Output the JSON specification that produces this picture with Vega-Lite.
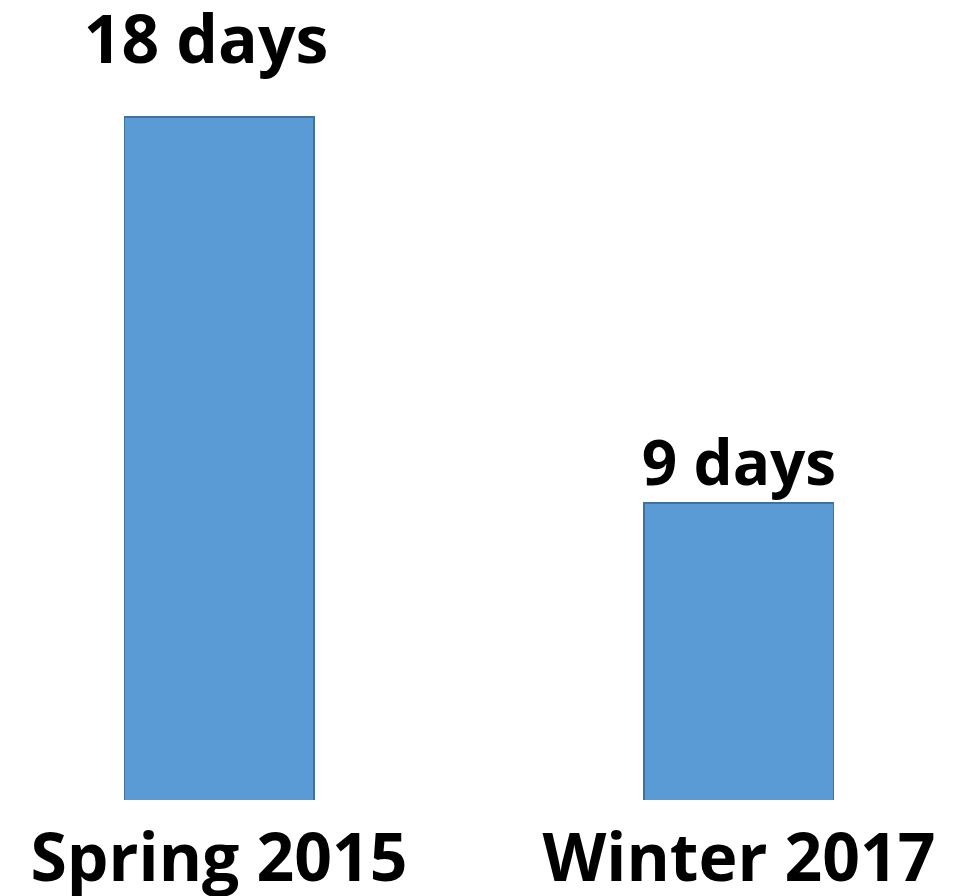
{
  "$schema": "https://vega.github.io/schema/vega-lite/v6.json",
  "width": 710,
  "height": 800,
  "autosize": {"type": "none"},
  "padding": {"left": 124, "top": 0, "right": 133, "bottom": 96},
  "background": "white",
  "config": {"view": {"stroke": null}},
  "data": {"values": [
    {"period": "Spring 2015", "days": 18, "label": "18 days"},
    {"period": "Winter 2017", "days": 9, "label": "9 days"}
  ]},
  "encoding": {
    "x": {
      "field": "period", "type": "nominal", "sort": null,
      "scale": {"paddingInner": 0.6346, "paddingOuter": 0},
      "axis": {
        "title": null, "domain": false, "ticks": false, "tickSize": 0,
        "labelAngle": 0, "labelFont": "Open Sans", "labelFontWeight": "bold",
        "labelFontSize": 66, "labelColor": "black", "labelBaseline": "alphabetic",
        "labelPadding": 80, "labelLimit": 0, "labelOverlap": false, "labelBound": false
      }
    },
    "y": {
      "field": "days", "type": "quantitative",
      "scale": {"domain": [2.075, 20.728], "zero": false, "nice": false},
      "axis": null
    }
  },
  "layer": [
    {"mark": {"type": "bar", "color": "#5B9BD5", "stroke": "#41719C", "strokeWidth": 2, "clip": true}},
    {"transform": [{"filter": "datum.days == 18"}],
     "mark": {"type": "text", "font": "Open Sans", "fontWeight": "bold", "fontSize": 66, "color": "black", "baseline": "alphabetic", "dy": -54, "dx": -13},
     "encoding": {"text": {"field": "label"}}},
    {"transform": [{"filter": "datum.days == 9"}],
     "mark": {"type": "text", "font": "Open Sans", "fontWeight": "bold", "fontSize": 62, "color": "black", "baseline": "alphabetic", "dy": -18},
     "encoding": {"text": {"field": "label"}}}
  ]
}
